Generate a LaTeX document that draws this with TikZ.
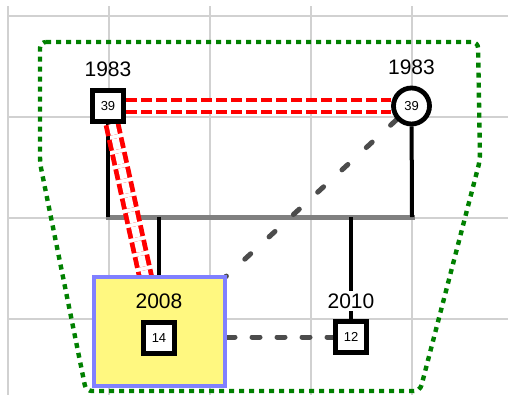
\documentclass[tikz,border=0pt]{standalone}
\usepackage{fontspec}
\setmainfont{Liberation Sans}
\usetikzlibrary{positioning,backgrounds}

\begin{document}
\begin{tikzpicture}[x=0.5pt,y=-0.5pt,inner sep=0.4mm,
  gridline/.style={draw=black!18,line width=0.75pt},
  person/.style={draw,line width=2.4pt,fill=white,font=\fontsize{6.5}{7}\selectfont},
  male/.style={person,rectangle,minimum size=15.6pt},
  female/.style={person,circle,minimum size=18pt},
  year/.style={font=\fontsize{10.5}{12}\selectfont},
  hilite/.style={draw=blue!50,fill=yellow!50,line width=2.2pt,minimum width=65.3pt,minimum height=54.3pt},
  tie/.style={draw,line width=2pt},
  marriage/.style={draw=red,line width=2.4pt,double=white,double distance=3.6pt,dash pattern=on 5.5pt off 2pt},
  link/.style={draw=black!70,line width=2.5pt,line cap=round},
  family/.style={draw=green!50!black,line width=2.2pt,dash pattern=on 2.5pt off 2.5pt,rounded corners=3pt}]

\useasboundingbox (0,0) rectangle (508,402);

\begin{scope}[on background layer]
\foreach \x in {8,109,210,311,412} \draw[gridline] (\x,6) -- (\x,395);
\foreach \y in {16,117,218,319} \draw[gridline] (8,\y) -- (508,\y);
\end{scope}

\node (hl) [hilite] at (159.5,331.5) {};
\node (b39) [male] at (108,106) {39};
\node (c39) [female] at (411.5,106) {39};
\node (b14) [male] at (159,338) {14};
\node (b12) [male] at (351,337) {12};

\node (y1) [year,above=4.5pt of b39] {1983};
\node (y2) [year,above=4pt of c39] {1983};
\node (y3) [year,above=4.4pt of b14] {2008};
\node (y4) [year,fill=white,above=4pt of b12] {2010};

\coordinate (mL) at (108,217);
\coordinate (mR) at (412,217);

\begin{scope}[on background layer]
\draw[gray,line width=2.5pt,line cap=rect] (mL) -- (mR);
\draw[tie] (b39) -- (mL);
\draw[tie] (c39) -- (mR);
\draw[tie] (b14 |- mL) -- (b14);
\draw[tie] (b12 |- mL) -- (b12);
\draw[marriage] (b39) -- (c39);
\draw[marriage] (b39) -- (b14);
\draw[link,dash pattern=on 4pt off 12.5pt] (c39) -- (b14);
\draw[link,dash pattern=on 4pt off 8.5pt] (hl.east |- b12) -- (b12);
\end{scope}

% family outline
\draw[family] (40,42) -- (478,42) -- (480,160) -- (420,391) -- (86,391) -- (40,163) -- cycle;
\end{tikzpicture}
\end{document}
